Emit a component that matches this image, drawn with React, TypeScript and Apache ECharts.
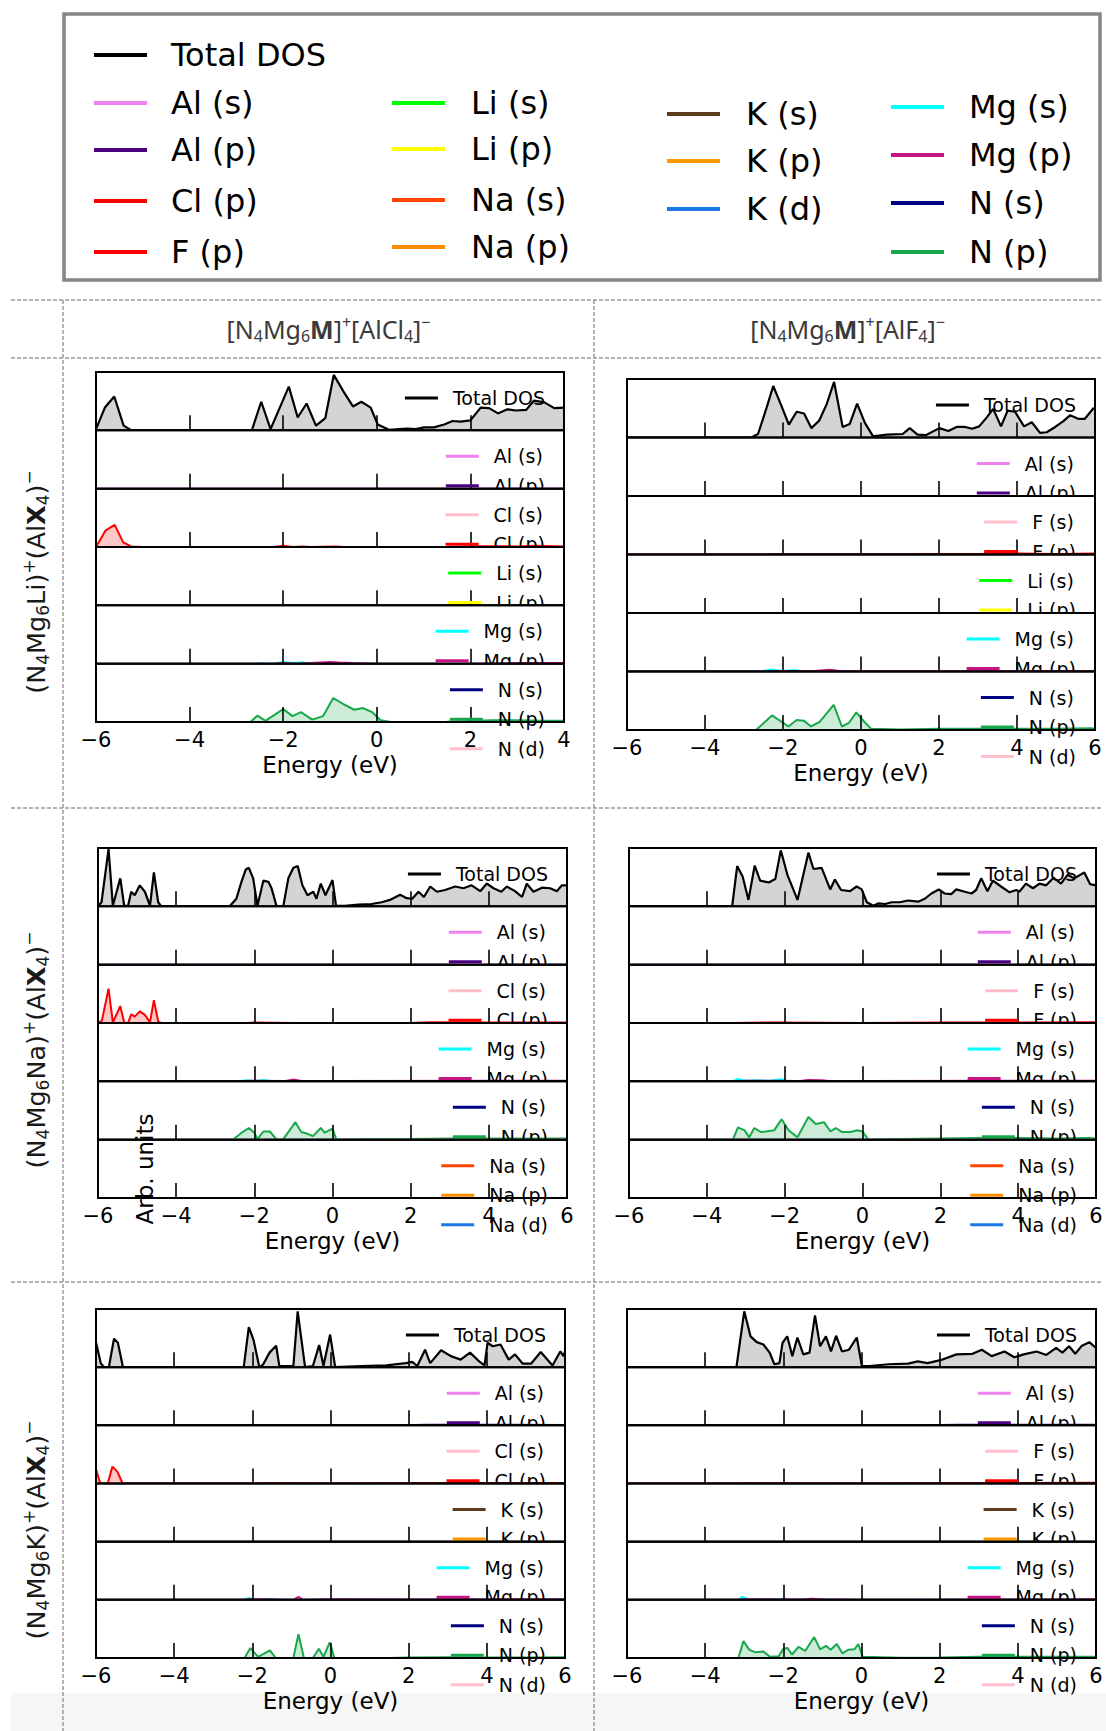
import React, { useEffect, useRef } from 'react';
import * as echarts from 'echarts';

type Pt = [number, number];

// ---------------- DATA (energy in eV, DOS in arb. units scaled to panel height) ----------------
const ZERO_A: Pt[] = [[-6, 0], [4, 0]];
const ZERO_B: Pt[] = [[-6, 0], [6, 0]];

// Row 1, left: (N4Mg6Li)+(AlCl4)-
const A_TOTAL: Pt[] = [[-6, 0.02], [-5.81, 0.39], [-5.61, 0.58], [-5.41, 0.08], [-5.24, 0], [-2.67, 0], [-2.47, 0.49], [-2.27, 0.02], [-1.88, 0.75], [-1.69, 0.22], [-1.5, 0.46], [-1.3, 0.08], [-1.1, 0.21], [-0.92, 0.95], [-0.7, 0.65], [-0.51, 0.41], [-0.33, 0.49], [-0.13, 0.39], [0.02, 0.1], [0.26, 0.01], [0.65, 0.03], [0.83, 0.02], [1.01, 0.05], [1.22, 0.05], [1.44, 0.1], [1.62, 0.16], [1.79, 0.15], [2.0, 0.17], [2.22, 0.39], [2.4, 0.38], [2.59, 0.29], [2.79, 0.36], [2.97, 0.34], [3.19, 0.35], [3.36, 0.51], [3.58, 0.48], [3.79, 0.38], [4, 0.39]];
const A_CL_P: Pt[] = [[-6, 0], [-5.8, 0.28], [-5.6, 0.38], [-5.42, 0.08], [-5.25, 0.01], [-5.0, 0], [-2.2, 0], [-2.0, 0.02], [-1.8, 0], [-1.6, 0.01], [-1.4, 0], [-0.9, 0.01], [-0.7, 0], [1.5, 0], [2.2, 0.015], [3, 0.01], [3.4, 0.02], [4, 0.01]];
const A_MG_S: Pt[] = [[-6, 0], [-2.6, 0], [-2.45, 0.012], [-2.25, 0], [-2.0, 0.03], [-1.8, 0.01], [-1.6, 0.025], [-1.4, 0], [4, 0]];
const A_MG_P: Pt[] = [[-6, 0], [-2.2, 0], [-2.0, 0.01], [-1.7, 0], [-1.0, 0.03], [-0.8, 0.02], [-0.5, 0.01], [0, 0], [2, 0], [3, 0.01], [4, 0.01]];
const A_N_P: Pt[] = [[-6, 0], [-2.7, 0], [-2.55, 0.11], [-2.38, 0.02], [-2.0, 0.22], [-1.8, 0.1], [-1.62, 0.17], [-1.38, 0.04], [-1.15, 0.1], [-0.93, 0.41], [-0.7, 0.3], [-0.48, 0.21], [-0.3, 0.24], [-0.1, 0.17], [0.08, 0.03], [0.3, 0], [1.5, 0.005], [2.0, 0.02], [2.5, 0.03], [3.0, 0.03], [3.5, 0.02], [4, 0.02]];

// Row 1, right: (N4Mg6Li)+(AlF4)-
const B_TOTAL: Pt[] = [[-6, 0], [-2.81, 0], [-2.64, 0.06], [-2.42, 0.51], [-2.25, 0.88], [-2.04, 0.54], [-1.85, 0.22], [-1.65, 0.44], [-1.46, 0.41], [-1.27, 0.16], [-1.07, 0.29], [-0.88, 0.57], [-0.69, 0.95], [-0.47, 0.18], [-0.29, 0.23], [-0.1, 0.58], [0.1, 0.25], [0.31, 0.02], [0.66, 0.05], [1.07, 0.06], [1.25, 0.16], [1.45, 0.05], [1.66, 0.04], [2.01, 0.16], [2.24, 0.11], [2.45, 0.18], [2.67, 0.18], [2.85, 0.15], [3.03, 0.19], [3.22, 0.34], [3.39, 0.49], [3.59, 0.19], [3.76, 0.46], [3.95, 0.44], [4.18, 0.19], [4.38, 0.26], [4.59, 0.08], [4.76, 0.09], [4.98, 0.18], [5.19, 0.28], [5.36, 0.38], [5.57, 0.32], [5.74, 0.32], [5.96, 0.5], [6, 0.5]];
const B_F_P: Pt[] = [[-6, 0], [-2.5, 0], [-2.2, 0.005], [1.0, 0.005], [2.0, 0.01], [3.0, 0.01], [4.0, 0.015], [5, 0.01], [6, 0.015]];
const B_MG_S: Pt[] = [[-6, 0], [-2.6, 0], [-2.3, 0.035], [-2.0, 0.01], [-1.7, 0.025], [-1.4, 0], [6, 0]];
const B_MG_P: Pt[] = [[-6, 0], [-2.4, 0], [-2.2, 0.01], [-1.2, 0.01], [-0.8, 0.03], [-0.5, 0.005], [0, 0.005], [2, 0.005], [4, 0.01], [6, 0.01]];
const B_N_P: Pt[] = [[-6, 0], [-2.69, 0], [-2.28, 0.25], [-1.86, 0.06], [-1.65, 0.17], [-1.47, 0.16], [-1.28, 0.06], [-1.06, 0.14], [-0.7, 0.43], [-0.49, 0.06], [-0.31, 0.12], [-0.12, 0.3], [0.07, 0.15], [0.26, 0.02], [1, 0.01], [2, 0.02], [3, 0.02], [4, 0.02], [5, 0.02], [5.9, 0.03], [6, 0.02]];

// Row 2, left: (N4Mg6Na)+(AlCl4)-
const C_TOTAL: Pt[] = [[-6, 0], [-5.91, 0.07], [-5.73, 0.98], [-5.62, 0.01], [-5.43, 0.48], [-5.33, 0.01], [-5.23, 0.01], [-5.15, 0.25], [-5.06, 0.19], [-4.93, 0.36], [-4.8, 0.25], [-4.67, 0.01], [-4.57, 0.58], [-4.46, 0.07], [-4.38, 0], [-2.63, 0], [-2.46, 0.13], [-2.33, 0.42], [-2.22, 0.63], [-2.14, 0.66], [-2.03, 0.48], [-1.92, 0.01], [-1.77, 0.44], [-1.64, 0.42], [-1.56, 0.31], [-1.43, 0], [-1.26, 0], [-1.13, 0.48], [-1.0, 0.66], [-0.89, 0.69], [-0.77, 0.36], [-0.64, 0.19], [-0.49, 0.25], [-0.41, 0.13], [-0.3, 0.39], [-0.18, 0.19], [0.0, 0.45], [0.09, 0.01], [0.32, 0.01], [0.66, 0.03], [1.0, 0.04], [1.26, 0.07], [1.47, 0.11], [1.73, 0.2], [1.9, 0.14], [2.04, 0.13], [2.2, 0.25], [2.34, 0.16], [2.5, 0.34], [2.67, 0.25], [2.88, 0.28], [3.14, 0.34], [3.35, 0.31], [3.56, 0.36], [3.78, 0.26], [3.95, 0.39], [4.12, 0.31], [4.32, 0.25], [4.46, 0.34], [4.67, 0.26], [4.85, 0.16], [4.97, 0.39], [5.14, 0.25], [5.36, 0.32], [5.57, 0.31], [5.74, 0.26], [5.87, 0.36], [6, 0.36]];
const C_CL_P: Pt[] = [[-6, 0], [-5.9, 0.04], [-5.73, 0.59], [-5.62, 0.01], [-5.43, 0.29], [-5.33, 0.01], [-5.23, 0], [-5.15, 0.15], [-5.06, 0.11], [-4.93, 0.2], [-4.8, 0.14], [-4.67, 0.01], [-4.57, 0.39], [-4.46, 0.03], [-4.38, 0], [-2.2, 0], [-2.0, 0.01], [-1.0, 0], [2, 0], [2.5, 0.015], [4, 0.01], [6, 0.01]];
const C_MG_S: Pt[] = [[-6, 0], [-2.4, 0], [-2.2, 0.02], [-2.0, 0.005], [-1.75, 0.025], [-1.55, 0], [6, 0]];
const C_MG_P: Pt[] = [[-6, 0], [-2.4, 0], [-2.1, 0.01], [-1.2, 0.005], [-1.0, 0.03], [-0.8, 0.005], [0, 0.005], [6, 0.01]];
const C_N_P: Pt[] = [[-6, 0], [-2.55, 0], [-2.3, 0.13], [-2.14, 0.2], [-2.0, 0.12], [-1.92, 0.01], [-1.77, 0.14], [-1.6, 0.14], [-1.43, 0], [-1.26, 0.01], [-1.13, 0.13], [-0.95, 0.3], [-0.8, 0.13], [-0.64, 0.1], [-0.5, 0.06], [-0.3, 0.2], [-0.2, 0.12], [0, 0.19], [0.1, 0], [1, 0.01], [2, 0.01], [3, 0.02], [4, 0.02], [5, 0.02], [6, 0.02]];

// Row 2, right: (N4Mg6Na)+(AlF4)-
const D_TOTAL: Pt[] = [[-6, 0], [-3.35, 0], [-3.22, 0.69], [-3.08, 0.51], [-2.93, 0.11], [-2.77, 0.7], [-2.63, 0.44], [-2.41, 0.41], [-2.24, 0.47], [-2.1, 0.96], [-1.93, 0.54], [-1.67, 0.11], [-1.39, 0.92], [-1.26, 0.64], [-1.05, 0.66], [-0.83, 0.29], [-0.71, 0.46], [-0.55, 0.28], [-0.32, 0.26], [-0.15, 0.34], [-0.02, 0.29], [0.11, 0.07], [0.28, 0.01], [0.4, 0.05], [0.58, 0.04], [0.75, 0.07], [0.96, 0.07], [1.17, 0.1], [1.43, 0.08], [1.6, 0.13], [1.77, 0.22], [1.96, 0.29], [2.11, 0.22], [2.28, 0.21], [2.41, 0.29], [2.63, 0.25], [2.8, 0.22], [2.92, 0.28], [3.05, 0.48], [3.21, 0.26], [3.35, 0.44], [3.56, 0.34], [3.78, 0.24], [3.95, 0.28], [4.03, 0.25], [4.2, 0.39], [4.38, 0.31], [4.55, 0.39], [4.72, 0.36], [4.91, 0.49], [5.1, 0.39], [5.27, 0.54], [5.43, 0.48], [5.57, 0.53], [5.7, 0.58], [5.85, 0.38], [6, 0.36]];
const D_F_P: Pt[] = [[-6, 0], [-3.3, 0], [-2.2, 0.01], [0, 0], [2, 0.01], [4, 0.01], [6, 0.015]];
const D_MG_S: Pt[] = [[-6, 0], [-3.35, 0], [-3.2, 0.04], [-3.0, 0.01], [-2.8, 0.02], [-2.4, 0.01], [-2.1, 0.035], [-1.9, 0], [6, 0]];
const D_MG_P: Pt[] = [[-6, 0], [-3.3, 0], [-3.0, 0.01], [-1.6, 0.005], [-1.4, 0.025], [-1.05, 0.02], [-0.8, 0], [0, 0.005], [6, 0.01]];
const D_N_P: Pt[] = [[-6, 0], [-3.33, 0], [-3.2, 0.21], [-3.03, 0.16], [-2.91, 0.04], [-2.78, 0.2], [-2.61, 0.13], [-2.27, 0.16], [-2.08, 0.35], [-1.9, 0.16], [-1.67, 0.04], [-1.39, 0.39], [-1.2, 0.27], [-0.99, 0.3], [-0.82, 0.14], [-0.69, 0.2], [-0.52, 0.13], [-0.31, 0.13], [-0.13, 0.16], [0, 0.14], [0.15, 0], [1, 0.01], [2, 0.02], [3, 0.03], [4, 0.03], [5, 0.02], [5.8, 0.03], [6, 0.02]];

// Row 3, left: (N4Mg6K)+(AlCl4)-
const E_TOTAL: Pt[] = [[-6, 0.43], [-5.88, 0.07], [-5.8, 0], [-5.67, 0], [-5.54, 0.49], [-5.44, 0.42], [-5.31, 0], [-2.22, 0], [-2.09, 0.69], [-1.97, 0.47], [-1.82, 0], [-1.72, 0.05], [-1.56, 0.25], [-1.39, 0.37], [-1.31, 0.02], [-0.95, 0.02], [-0.84, 0.96], [-0.65, 0], [-0.45, 0.02], [-0.29, 0.38], [-0.18, 0.02], [-0.01, 0.56], [0.12, 0], [0.78, 0.02], [1.43, 0.03], [1.93, 0.07], [2.09, 0.09], [2.22, 0.02], [2.42, 0.3], [2.55, 0.07], [2.83, 0.29], [3.08, 0.19], [3.33, 0.13], [3.57, 0.25], [3.82, 0.09], [3.94, 0.03], [4.02, 0.42], [4.15, 0.36], [4.35, 0.39], [4.56, 0.13], [4.72, 0.22], [4.92, 0.06], [5.13, 0.06], [5.38, 0.26], [5.68, 0.03], [5.88, 0.27], [5.96, 0.19], [6, 0.27]];
const E_CL_S: Pt[] = [[-6, 0], [-2.2, 0], [-2.0, 0.008], [-1.5, 0.01], [-1.2, 0], [2, 0.005], [3, 0.01], [6, 0.005]];
const E_CL_P: Pt[] = [[-6, 0.25], [-5.9, 0.02], [-5.82, 0], [-5.7, 0], [-5.58, 0.29], [-5.45, 0.2], [-5.32, 0], [-2.0, 0], [-1.5, 0.01], [0, 0], [2, 0.01], [3, 0.01], [6, 0.01]];
const E_MG_S: Pt[] = [[-6, 0], [-2.25, 0], [-2.1, 0.03], [-1.9, 0], [-1.6, 0.01], [-1.5, 0.02], [-1.35, 0], [6, 0]];
const E_MG_P: Pt[] = [[-6, 0], [-2.2, 0], [-2.1, 0.01], [-0.95, 0], [-0.82, 0.05], [-0.7, 0], [0, 0.01], [2.5, 0.005], [6, 0.01]];
const E_AL_P: Pt[] = [[-6, 0], [1.8, 0], [2.5, 0.01], [4, 0.01], [6, 0.005]];
const E_N_P: Pt[] = [[-6, 0], [-2.2, 0], [-2.05, 0.17], [-1.85, 0.02], [-1.55, 0.13], [-1.4, 0], [-0.95, 0], [-0.82, 0.41], [-0.68, 0], [-0.45, 0], [-0.3, 0.16], [-0.18, 0.02], [-0.02, 0.27], [0.1, 0], [1.5, 0], [2.0, 0.01], [3, 0.015], [4, 0.01], [5, 0.01], [6, 0.015]];

// Row 3, right: (N4Mg6K)+(AlF4)-
const F_TOTAL: Pt[] = [[-6, 0], [-3.2, 0], [-3.0, 0.96], [-2.84, 0.53], [-2.68, 0.43], [-2.51, 0.39], [-2.35, 0.25], [-2.23, 0.05], [-2.1, 0.07], [-2.02, 0.42], [-1.9, 0.53], [-1.77, 0.19], [-1.64, 0.51], [-1.49, 0.22], [-1.33, 0.25], [-1.19, 0.89], [-1.06, 0.36], [-0.91, 0.53], [-0.78, 0.27], [-0.65, 0.54], [-0.5, 0.27], [-0.32, 0.3], [-0.12, 0.51], [0.01, 0.02], [0.2, 0.02], [0.7, 0.05], [1.19, 0.06], [1.44, 0.1], [1.69, 0.07], [2.02, 0.12], [2.43, 0.22], [2.84, 0.23], [3.08, 0.3], [3.33, 0.19], [3.66, 0.27], [3.91, 0.17], [4.15, 0.22], [4.48, 0.27], [4.73, 0.21], [4.98, 0.33], [5.14, 0.25], [5.31, 0.36], [5.47, 0.23], [5.64, 0.37], [5.83, 0.43], [6, 0.33]];
const F_F_S: Pt[] = [[-6, 0], [-3.1, 0], [-2.9, 0.01], [-2.6, 0], [-2.0, 0.01], [-1.6, 0.008], [-1.3, 0], [1.6, 0.005], [6, 0.005]];
const F_F_P: Pt[] = [[-6, 0], [-3.2, 0], [-3.0, 0.005], [0, 0], [2, 0.01], [4, 0.01], [6, 0.015]];
const F_MG_S: Pt[] = [[-6, 0], [-3.15, 0], [-3.05, 0.05], [-2.9, 0.01], [-2.1, 0.01], [-2.0, 0.025], [-1.85, 0], [6, 0]];
const F_MG_P: Pt[] = [[-6, 0], [-3.1, 0], [-3.0, 0.01], [-1.5, 0.005], [-1.3, 0.02], [-1.0, 0.01], [0, 0], [6, 0.01]];
const F_AL_P: Pt[] = [[-6, 0], [1.5, 0], [2.5, 0.01], [4, 0.01], [6, 0.01]];
const F_N_P: Pt[] = [[-6, 0], [-3.15, 0], [-3.02, 0.29], [-2.87, 0.14], [-2.72, 0.1], [-2.51, 0.11], [-2.34, 0.02], [-2.12, 0.03], [-2.0, 0.16], [-1.89, 0.17], [-1.78, 0.06], [-1.61, 0.19], [-1.44, 0.12], [-1.21, 0.36], [-1.06, 0.15], [-0.91, 0.21], [-0.79, 0.14], [-0.63, 0.24], [-0.49, 0.08], [-0.34, 0.14], [-0.18, 0.15], [-0.08, 0.24], [0.03, 0.02], [1, 0.005], [2, 0.01], [3, 0.02], [4, 0.02], [5, 0.02], [6, 0.02]];

const ENERGY_RANGES: Pt[] = [[-6, 4], [-6, 6], [-6, 6], [-6, 6], [-6, 6], [-6, 6]];
const COLUMN_TITLES = ['[N{s|4}Mg{s|6}{b|M}]{p|+}[AlCl{s|4}]{p|\u2212}', '[N{s|4}Mg{s|6}{b|M}]{p|+}[AlF{s|4}]{p|\u2212}'];
const ROW_TITLES = ['(N{s|4}Mg{s|6}Li){p|+}(Al{b|X}{s|4}){p|\u2212}', '(N{s|4}Mg{s|6}Na){p|+}(Al{b|X}{s|4}){p|\u2212}', '(N{s|4}Mg{s|6}K){p|+}(Al{b|X}{s|4}){p|\u2212}'];

// global legend columns
const LEGEND_COLS: string[][] = [
  ['Total DOS', 'Al (s)', 'Al (p)', 'Cl (p)', 'F (p)'],
  ['Li (s)', 'Li (p)', 'Na (s)', 'Na (p)'],
  ['K (s)', 'K (p)', 'K (d)'],
  ['Mg (s)', 'Mg (p)', 'N (s)', 'N (p)'],
];

// ---------------- STYLES ----------------
const COLORS: Record<string, string> = {
  'Total DOS': '#000000',
  'Al (s)': '#ee82ee', 'Al (p)': '#4b0082',
  'Cl (s)': '#ffc0cb', 'Cl (p)': '#ff0000', 'F (s)': '#ffc0cb', 'F (p)': '#ff0000',
  'Li (s)': '#00ff00', 'Li (p)': '#ffff00',
  'Na (s)': '#ff4500', 'Na (p)': '#ff8c00', 'Na (d)': '#1a78e6',
  'K (s)': '#5c3a1a', 'K (p)': '#ff9900', 'K (d)': '#1a78e6',
  'Mg (s)': '#00ffff', 'Mg (p)': '#c71585',
  'N (s)': '#000080', 'N (p)': '#18a84c', 'N (d)': '#ffc0cb',
};

type Curve = { name: string; data: Pt[] };
const PANELS: Curve[][][] = [
  [
    [{ name: 'Total DOS', data: A_TOTAL }],
    [{ name: 'Al (s)', data: ZERO_A }, { name: 'Al (p)', data: ZERO_A }],
    [{ name: 'Cl (s)', data: ZERO_A }, { name: 'Cl (p)', data: A_CL_P }],
    [{ name: 'Li (s)', data: ZERO_A }, { name: 'Li (p)', data: ZERO_A }],
    [{ name: 'Mg (s)', data: A_MG_S }, { name: 'Mg (p)', data: A_MG_P }],
    [{ name: 'N (s)', data: ZERO_A }, { name: 'N (p)', data: A_N_P }, { name: 'N (d)', data: ZERO_A }],
  ],
  [
    [{ name: 'Total DOS', data: B_TOTAL }],
    [{ name: 'Al (s)', data: ZERO_B }, { name: 'Al (p)', data: ZERO_B }],
    [{ name: 'F (s)', data: ZERO_B }, { name: 'F (p)', data: B_F_P }],
    [{ name: 'Li (s)', data: ZERO_B }, { name: 'Li (p)', data: ZERO_B }],
    [{ name: 'Mg (s)', data: B_MG_S }, { name: 'Mg (p)', data: B_MG_P }],
    [{ name: 'N (s)', data: ZERO_B }, { name: 'N (p)', data: B_N_P }, { name: 'N (d)', data: ZERO_B }],
  ],
  [
    [{ name: 'Total DOS', data: C_TOTAL }],
    [{ name: 'Al (s)', data: ZERO_B }, { name: 'Al (p)', data: ZERO_B }],
    [{ name: 'Cl (s)', data: ZERO_B }, { name: 'Cl (p)', data: C_CL_P }],
    [{ name: 'Mg (s)', data: C_MG_S }, { name: 'Mg (p)', data: C_MG_P }],
    [{ name: 'N (s)', data: ZERO_B }, { name: 'N (p)', data: C_N_P }, { name: 'N (d)', data: ZERO_B }],
    [{ name: 'Na (s)', data: ZERO_B }, { name: 'Na (p)', data: ZERO_B }, { name: 'Na (d)', data: ZERO_B }],
  ],
  [
    [{ name: 'Total DOS', data: D_TOTAL }],
    [{ name: 'Al (s)', data: ZERO_B }, { name: 'Al (p)', data: ZERO_B }],
    [{ name: 'F (s)', data: ZERO_B }, { name: 'F (p)', data: D_F_P }],
    [{ name: 'Mg (s)', data: D_MG_S }, { name: 'Mg (p)', data: D_MG_P }],
    [{ name: 'N (s)', data: ZERO_B }, { name: 'N (p)', data: D_N_P }, { name: 'N (d)', data: ZERO_B }],
    [{ name: 'Na (s)', data: ZERO_B }, { name: 'Na (p)', data: ZERO_B }, { name: 'Na (d)', data: ZERO_B }],
  ],
  [
    [{ name: 'Total DOS', data: E_TOTAL }],
    [{ name: 'Al (s)', data: ZERO_B }, { name: 'Al (p)', data: E_AL_P }],
    [{ name: 'Cl (s)', data: E_CL_S }, { name: 'Cl (p)', data: E_CL_P }],
    [{ name: 'K (s)', data: ZERO_B }, { name: 'K (p)', data: ZERO_B }, { name: 'K (d)', data: ZERO_B }],
    [{ name: 'Mg (s)', data: E_MG_S }, { name: 'Mg (p)', data: E_MG_P }],
    [{ name: 'N (s)', data: ZERO_B }, { name: 'N (p)', data: E_N_P }, { name: 'N (d)', data: ZERO_B }],
  ],
  [
    [{ name: 'Total DOS', data: F_TOTAL }],
    [{ name: 'Al (s)', data: ZERO_B }, { name: 'Al (p)', data: F_AL_P }],
    [{ name: 'F (s)', data: F_F_S }, { name: 'F (p)', data: F_F_P }],
    [{ name: 'K (s)', data: ZERO_B }, { name: 'K (p)', data: ZERO_B }, { name: 'K (d)', data: ZERO_B }],
    [{ name: 'Mg (s)', data: F_MG_S }, { name: 'Mg (p)', data: F_MG_P }],
    [{ name: 'N (s)', data: ZERO_B }, { name: 'N (p)', data: F_N_P }, { name: 'N (d)', data: ZERO_B }],
  ],
];

// ---------------- LAYOUT ----------------
const W = 1106, H = 1731;
const PANEL_BOXES = [
  { left: 96, right: 564, top: 372, bottom: 722 },
  { left: 627, right: 1095, top: 379, bottom: 730 },
  { left: 98, right: 567, top: 848, bottom: 1198 },
  { left: 629, right: 1096, top: 848, bottom: 1198 },
  { left: 96, right: 565, top: 1309, bottom: 1658 },
  { left: 627, right: 1096, top: 1309, bottom: 1658 },
];
const LEG_BOX = { x: 64, y: 14, w: 1036, h: 266 };
const LEG_COL_X = [[94, 147, 171], [392, 445, 471], [667, 720, 746], [891, 944, 969]];
const LEG_COL_Y = [[55, 103, 150, 201, 252], [103, 149, 200, 247], [114, 161, 209], [107, 155, 203, 252]];
const H_LINES = [300, 358, 808, 1282];
const V_LINES = [63, 594];
const ROW_Y = [582, 1050, 1530];
const FONT = 'DejaVu Sans';

const measureCtx = typeof document !== 'undefined' ? document.createElement('canvas').getContext('2d') : null;
function textWidth(t: string, size: number) {
  if (!measureCtx) return t.length * size * 0.6;
  measureCtx.font = `${size}px "${FONT}"`;
  return measureCtx.measureText(t).width;
}
const minus = (v: number) => (v < 0 ? '\u2212' + Math.abs(v) : String(v));

function richStyles(size: number, sub: number, family: string, fill: string, lh: number) {
  return {
    s: { fontSize: sub, fontFamily: family, fill, lineHeight: sub, verticalAlign: 'bottom' },
    p: { fontSize: sub, fontFamily: family, fill, lineHeight: sub, verticalAlign: 'top' },
    b: { fontSize: size, fontFamily: family, fontWeight: 'bold', fill, lineHeight: lh },
  };
}

function buildOption() {
  const grids: any[] = [];
  const xAxes: any[] = [];
  const yAxes: any[] = [];
  const series: any[] = [];
  const els: any[] = [];

  // bottom faint band
  els.push({ type: 'rect', shape: { x: 11, y: 1693, width: W - 11, height: H - 1693 }, style: { fill: '#f6f6f6' }, z: 0, silent: true });

  // global legend box
  els.push({ type: 'rect', shape: { x: LEG_BOX.x, y: LEG_BOX.y, width: LEG_BOX.w, height: LEG_BOX.h }, style: { fill: '#ffffff', stroke: '#858585', lineWidth: 3.5 }, z: 1, silent: true });
  LEGEND_COLS.forEach((col, ci) => {
    col.forEach((name, ri) => {
      const [x1, x2, tx] = LEG_COL_X[ci];
      const y = LEG_COL_Y[ci][ri];
      els.push({ type: 'line', shape: { x1, y1: y, x2, y2: y }, style: { stroke: COLORS[name], lineWidth: 4 }, z: 2, silent: true });
      els.push({ type: 'text', x: tx, y, style: { text: name, fontSize: 32, fontFamily: FONT, fill: '#000', textAlign: 'left', align: 'left', textVerticalAlign: 'middle', verticalAlign: 'middle' }, z: 2, silent: true });
    });
  });

  // table dashed lines
  H_LINES.forEach((y) => els.push({ type: 'line', shape: { x1: 11, y1: y, x2: 1101, y2: y }, style: { stroke: '#9a9a9a', lineWidth: 1.5, lineDash: [4, 2] }, z: 1, silent: true }));
  V_LINES.forEach((x) => els.push({ type: 'line', shape: { x1: x, y1: 300, x2: x, y2: H }, style: { stroke: '#9a9a9a', lineWidth: 1.5, lineDash: [4, 2] }, z: 1, silent: true }));

  // column titles
  const colCx = [(V_LINES[0] + V_LINES[1]) / 2, (V_LINES[1] + 1101) / 2];
  COLUMN_TITLES.forEach((t, i) => {
    els.push({ type: 'text', x: colCx[i], y: (H_LINES[0] + H_LINES[1]) / 2, style: { text: t, fontSize: 25, fontFamily: 'Noto Sans', fill: '#3a3a3a', lineHeight: 30, textAlign: 'center', align: 'center', textVerticalAlign: 'middle', verticalAlign: 'middle', rich: richStyles(25, 16, 'Noto Sans', '#3a3a3a', 30) }, z: 2, silent: true });
  });
  // row titles
  ROW_TITLES.forEach((t, i) => {
    els.push({ type: 'text', x: 36, y: ROW_Y[i], rotation: Math.PI / 2, style: { text: t, fontSize: 25.5, fontFamily: FONT, fill: '#1a1a1a', lineHeight: 31, textAlign: 'center', align: 'center', textVerticalAlign: 'middle', verticalAlign: 'middle', rich: richStyles(25.5, 17, FONT, '#1a1a1a', 31) }, z: 2, silent: true });
  });

  PANELS.forEach((subs, pi) => {
    const box = PANEL_BOXES[pi];
    const [xmin, xmax] = ENERGY_RANGES[pi];
    const n = subs.length;
    const h = (box.bottom - box.top) / n;
    subs.forEach((curves, k) => {
      const gi = grids.length;
      const gtop = box.top + k * h;
      const base = 10 + 10 * k;
      const last = k === n - 1;
      grids.push({ left: box.left, top: gtop, width: box.right - box.left, height: h, show: true, borderColor: '#000', borderWidth: 2, backgroundColor: 'rgba(0,0,0,0)', z: 500 });
      xAxes.push({
        gridIndex: gi, type: 'value', min: xmin, max: xmax, interval: 2, z: base + 3,
        axisLine: { show: false },
        axisTick: { show: true, inside: true, length: 15, lineStyle: { color: '#000', width: 1.6 } },
        axisLabel: { show: last, formatter: minus, fontSize: 21, fontFamily: FONT, color: '#000', margin: 7 },
        splitLine: { show: false },
        name: last ? 'Energy (eV)' : '', nameLocation: 'middle', nameGap: 31,
        nameTextStyle: { fontSize: 23, fontFamily: FONT, color: '#000' },
      });
      yAxes.push({ gridIndex: gi, type: 'value', min: 0, max: 1, show: false });
      curves.forEach((c) => {
        const isTotal = c.name === 'Total DOS';
        series.push({
          type: 'line', name: c.name, xAxisIndex: gi, yAxisIndex: gi, data: c.data, symbol: 'none', silent: true, clip: true, z: base + 2,
          lineStyle: { color: COLORS[c.name], width: isTotal ? 2.2 : 2 },
          areaStyle: isTotal ? { color: '#d4d4d4', opacity: 1 } : { color: COLORS[c.name], opacity: 0.22 },
        });
      });
      if (k > 0) {
        els.push({ type: 'rect', shape: { x: box.left, y: gtop, width: box.right - box.left, height: h }, style: { fill: '#ffffff' }, z: base, silent: true });
      }
      // per-subplot legend (upper right, no frame)
      const fs = 19;
      const maxW = Math.max(...curves.map((c) => textWidth(c.name, fs)));
      const textLeft = box.right - 19 - maxW;
      const lineR = textLeft - 15;
      const lineL = lineR - 33;
      curves.forEach((c, i) => {
        const y = gtop + 26 + i * 29.5;
        els.push({ type: 'line', shape: { x1: lineL, y1: y, x2: lineR, y2: y }, style: { stroke: COLORS[c.name], lineWidth: 3 }, z: base + 5, silent: true });
        els.push({ type: 'text', x: textLeft, y, style: { text: c.name, fontSize: fs, fontFamily: FONT, fill: '#000', textAlign: 'left', align: 'left', textVerticalAlign: 'middle', verticalAlign: 'middle' }, z: base + 5, silent: true });
      });
    });
  });

  // "Arb. units" label (row 2, left)
  els.push({ type: 'text', x: 145, y: 1169, rotation: Math.PI / 2, style: { text: 'Arb. units', fontSize: 23, fontFamily: FONT, fill: '#000', textAlign: 'center', align: 'center', textVerticalAlign: 'middle', verticalAlign: 'middle' }, z: 200, silent: true });

  return {
    animation: false,
    backgroundColor: '#ffffff',
    textStyle: { fontFamily: FONT },
    grid: grids,
    xAxis: xAxes,
    yAxis: yAxes,
    series,
    graphic: { elements: els },
  };
}

export default function App() {
  const ref = useRef<HTMLDivElement>(null);
  useEffect(() => {
    if (!ref.current) return;
    const chart = echarts.init(ref.current, null, { renderer: 'svg', width: W, height: H });
    chart.setOption(buildOption() as any);
    return () => chart.dispose();
  }, []);
  return <div ref={ref} style={{ position: 'absolute', left: 0, top: 0, width: W, height: H, background: '#fff' }} />;
}
